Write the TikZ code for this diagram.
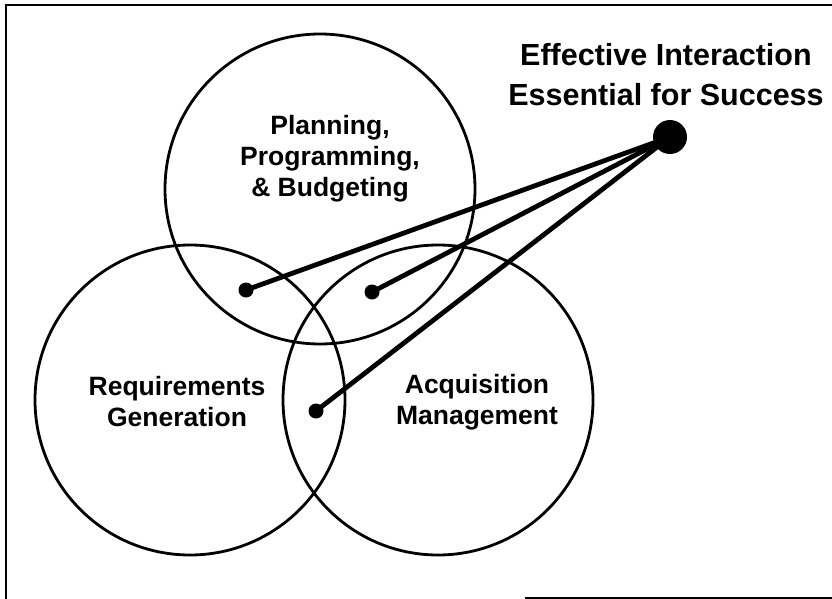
\documentclass[tikz,border=0pt]{standalone}
\usepackage{fontspec}
\setmainfont{Liberation Sans}
\begin{document}
\begin{tikzpicture}[x=1pt,y=-1pt,
  ring/.style={circle,draw=black,line width=2.8pt,minimum size=310pt,inner sep=0pt},
  lbl/.style={align=center,font=\fontsize{26.5}{31}\selectfont\bfseries,inner sep=0pt},
  title/.style={align=center,font=\fontsize{30.5}{40}\selectfont\bfseries,inner sep=0pt},
  dotsm/.style={circle,fill=black,minimum size=15pt,inner sep=0pt},
  dotbig/.style={circle,fill=black,minimum size=34pt,inner sep=0pt},
  link/.style={line width=4.8pt}]
\useasboundingbox (0,0) rectangle (832,599);
\fill[white] (0,0) rectangle (832,599);
% frame
\draw[line width=2.4pt] (6,599) -- (6,5) -- (832,5);
\draw[line width=2pt] (525,597.5) -- (832,597.5);
% circles
\node[ring] (ppb) at (320,189) {};
\node[ring] (req) at (190,400) {};
\node[ring] (acq) at (438,400) {};
% labels
\node[lbl] (tppb) at (330,159) {Planning,\\Programming,\\\& Budgeting};
\node[lbl] (treq) at (177,402) {Requirements\\Generation};
\node[lbl] (tacq) at (477,402) {Acquisition\\Management};
\node[title] (ttl) at (666,75) {Effective Interaction\\Essential for Success};
% dots
\node[dotbig] (hub) at (670,137) {};
\node[dotsm] (d1) at (246,290) {};
\node[dotsm] (d2) at (372,292) {};
\node[dotsm] (d3) at (316,411) {};
% links
\draw[link] (hub.center) -- (d1.center);
\draw[link] (hub.center) -- (d2.center);
\draw[link] (hub.center) -- (d3.center);
\end{tikzpicture}
\end{document}
